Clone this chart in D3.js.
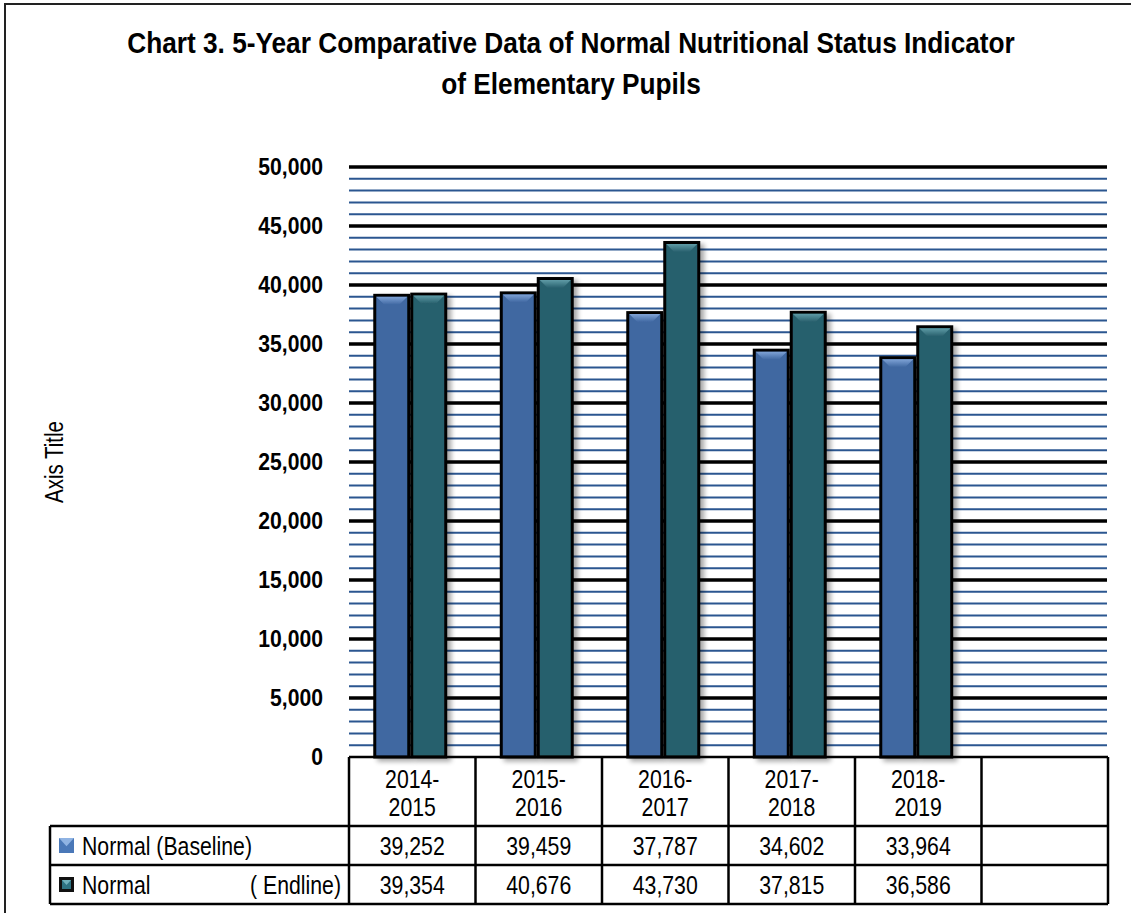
<!DOCTYPE html>
<html>
<head>
<meta charset="utf-8">
<script src="https://cdn.jsdelivr.net/npm/d3@7"></script>
<style>
  html, body { margin: 0; padding: 0; background: #fff; }
  svg { display: block; }
  text { font-family: "Liberation Sans", Arial, sans-serif; }
</style>
</head>
<body>
<script>
const categories = ["2014-2015", "2015-2016", "2016-2017", "2017-2018", "2018-2019"];
const categoryLines = [["2014-", "2015"], ["2015-", "2016"], ["2016-", "2017"], ["2017-", "2018"], ["2018-", "2019"]];
const seriesNames = ["Normal (Baseline)", "Normal (Endline)"];
const baseline = [39252, 39459, 37787, 34602, 33964];
const endline = [39354, 40676, 43730, 37815, 36586];
const yMax = 50000;
const majorStep = 5000;
const minorStep = 1000;

const W = 1131, H = 913;
const colors = { base: "#3F67A1", baseHi: "#7FA3D6", end: "#28606D", endHi: "#5E9BA6" };

const svg = d3.select("body").append("svg").attr("width", W).attr("height", H);
const defs = svg.append("defs");

// helper: horizontally condensed text
function ctext(parent, x, y, str, opts) {
  const o = Object.assign({ size: 25, sx: 0.85, weight: "normal", anchor: "start" }, opts || {});
  return parent.append("text")
    .attr("transform", `translate(${x},${y}) scale(${o.sx},1)`)
    .attr("font-size", o.size).attr("font-weight", o.weight)
    .attr("text-anchor", o.anchor).attr("fill", "#000").text(str);
}

// shadow filter
const f = defs.append("filter").attr("id", "shadow").attr("x", "-20%").attr("y", "-5%").attr("width", "150%").attr("height", "115%");
f.append("feGaussianBlur").attr("in", "SourceAlpha").attr("stdDeviation", 2.5).attr("result", "b");
f.append("feOffset").attr("in", "b").attr("dx", 4).attr("dy", 3).attr("result", "o");
f.append("feComponentTransfer").attr("in", "o").attr("result", "o2")
  .append("feFuncA").attr("type", "linear").attr("slope", 0.35);
const fm = f.append("feMerge");
fm.append("feMergeNode").attr("in", "o2");
fm.append("feMergeNode").attr("in", "SourceGraphic");

function hiGrad(id, c1, c2) {
  const g = defs.append("linearGradient").attr("id", id).attr("x1", 0).attr("y1", 0).attr("x2", 0).attr("y2", 1);
  g.append("stop").attr("offset", "0%").attr("stop-color", c1);
  g.append("stop").attr("offset", "100%").attr("stop-color", c2);
}
hiGrad("gBase", colors.baseHi, colors.base);
hiGrad("gEnd", colors.endHi, colors.end);

// outer frame
svg.append("path").attr("d", `M5,${H} L5,4 L${W},4`).attr("fill", "none").attr("stroke", "#222").attr("stroke-width", 2);

// title (fit to measured width of the original)
const t1 = ctext(svg, 571, 53, "Chart 3. 5-Year Comparative Data of Normal Nutritional Status Indicator", { size: 29, weight: "bold", anchor: "middle", sx: 1 });
const len1 = t1.node().getComputedTextLength();
const tsx = 888 / len1;
t1.attr("transform", `translate(571,53) scale(${tsx},1)`);
ctext(svg, 571, 94, "of Elementary Pupils", { size: 29, weight: "bold", anchor: "middle", sx: tsx });

// scales
const plotL = 349, plotR = 1108, plotT = 167, plotB = 757;
const y = d3.scaleLinear().domain([0, yMax]).range([plotB, plotT]);
const band = d3.scaleBand().domain(d3.range(categories.length + 1)).range([plotL, plotR]).paddingInner(0).paddingOuter(0);
const inner = d3.scaleBand().domain([0, 1]).range([-2, band.bandwidth() - 2]).paddingOuter(0.71).paddingInner(0);

// gridlines
const minorTicks = d3.range(minorStep, yMax + 1, minorStep).filter(v => v % majorStep !== 0);
const majorTicks = d3.range(majorStep, yMax + 1, majorStep);
svg.append("g").selectAll("line").data(minorTicks).join("line")
  .attr("x1", plotL).attr("x2", plotR - 1).attr("y1", d => y(d)).attr("y2", d => y(d))
  .attr("stroke", "#2B5690").attr("stroke-width", 2);
svg.append("g").selectAll("line").data(majorTicks).join("line")
  .attr("x1", plotL).attr("x2", plotR - 1).attr("y1", d => y(d)).attr("y2", d => y(d))
  .attr("stroke", "#000").attr("stroke-width", 3.5);

// y axis labels
const yTicks = y.ticks(10);
const fmt = d3.format(",");
const ya = svg.append("g");
yTicks.forEach(v => {
  ctext(ya, 323, y(v) + 8, fmt(v), { size: 23, weight: "bold", anchor: "end", sx: 0.92 });
});

// axis title
svg.append("text").attr("font-size", 25).attr("fill", "#000").attr("text-anchor", "middle")
  .attr("transform", "translate(63,462) rotate(-90) scale(0.82,1)").text("Axis Title");

// bars
const series = [
  { vals: baseline, fill: colors.base, grad: "url(#gBase)" },
  { vals: endline, fill: colors.end, grad: "url(#gEnd)" }
];
const barsG = svg.append("g");
series.forEach((s, si) => {
  s.vals.forEach((v, i) => {
    const x0 = band(i) + inner(si);
    const w = inner.bandwidth();
    const yt = y(v);
    const g = barsG.append("g").attr("filter", "url(#shadow)");
    g.append("rect").attr("x", x0 + 1.5).attr("y", yt + 1.5).attr("width", w - 3).attr("height", plotB - yt - 1.5)
      .attr("fill", s.fill).attr("stroke", "#000").attr("stroke-width", 3);
    const b = 8, xi = x0 + 3, wi = w - 6, yi = yt + 3;
    g.append("path").attr("d", `M${xi},${yi} L${xi + wi},${yi} L${xi + wi - b},${yi + b} L${xi + b},${yi + b} Z`)
      .attr("fill", s.grad);
  });
});

// data table
const rowTop = plotB, hdrBot = 826, r1Bot = 865, r2Bot = 904, legL = 50;
const tbl = svg.append("g").attr("stroke", "#000").attr("stroke-width", 2.5).attr("fill", "none");
tbl.append("line").attr("x1", plotL).attr("x2", plotR).attr("y1", rowTop).attr("y2", rowTop);
tbl.append("line").attr("x1", legL).attr("x2", plotR).attr("y1", hdrBot).attr("y2", hdrBot);
tbl.append("line").attr("x1", legL).attr("x2", plotR).attr("y1", r1Bot).attr("y2", r1Bot);
tbl.append("line").attr("x1", legL).attr("x2", plotR).attr("y1", r2Bot).attr("y2", r2Bot);
tbl.append("line").attr("x1", legL).attr("x2", legL).attr("y1", hdrBot).attr("y2", r2Bot);
const colEdges = d3.range(categories.length + 2).map(i => i <= categories.length ? band(i) : plotR);
colEdges.forEach(x => {
  tbl.append("line").attr("x1", x).attr("x2", x).attr("y1", rowTop).attr("y2", r2Bot);
});

const txt = svg.append("g");
categoryLines.forEach((lines, i) => {
  const cx = band(i) + band.bandwidth() / 2;
  ctext(txt, cx, 788, lines[0], { anchor: "middle" });
  ctext(txt, cx, 816, lines[1], { anchor: "middle" });
});
baseline.forEach((v, i) => {
  ctext(txt, band(i) + band.bandwidth() / 2, 855, fmt(v), { anchor: "middle" });
});
endline.forEach((v, i) => {
  ctext(txt, band(i) + band.bandwidth() / 2, 894, fmt(v), { anchor: "middle" });
});

// legend keys
function key(yc, fill, hi, dark) {
  const g = svg.append("g");
  g.append("rect").attr("x", 59).attr("y", yc - 7).attr("width", 15).attr("height", 15)
    .attr("fill", dark ? "#111" : fill);
  const ix = dark ? 62 : 59, iy = yc - 7 + (dark ? 3 : 0), iw = dark ? 9 : 15;
  g.append("rect").attr("x", ix).attr("y", iy).attr("width", iw).attr("height", iw).attr("fill", fill);
  g.append("path").attr("d", `M${ix},${iy} L${ix + iw},${iy} L${ix + iw / 2},${iy + iw * 0.55} Z`).attr("fill", hi);
}
key(845, "#4A78B8", "#8FB3E3", false);
key(884, "#2E7383", "#6FB0BC", true);
ctext(txt, 82, 855, "Normal (Baseline)");
ctext(txt, 82, 894, "Normal");
ctext(txt, 341, 894, "( Endline)", { anchor: "end" });
</script>
</body>
</html>
